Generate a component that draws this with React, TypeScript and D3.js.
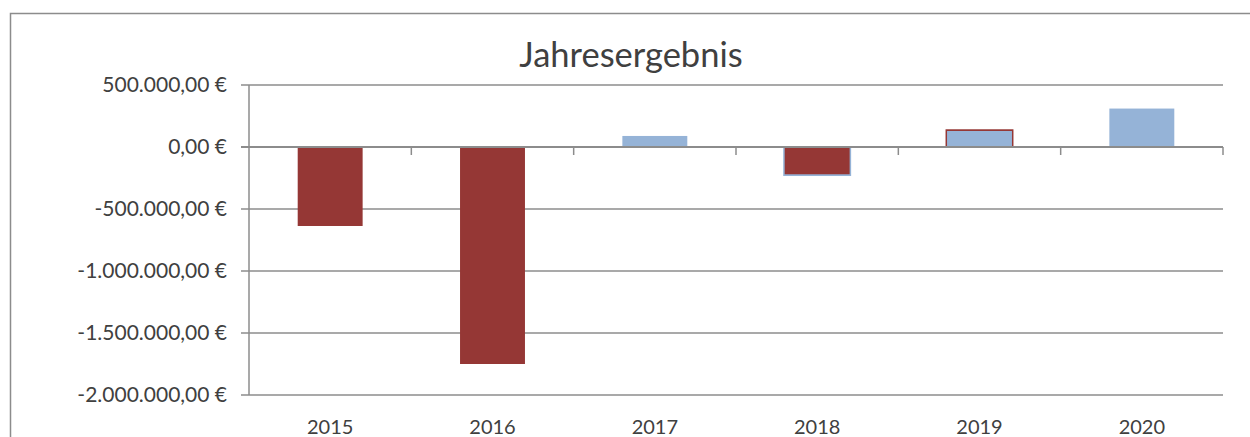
import React from "react";
import * as d3 from "d3";

const categories = ["2015", "2016", "2017", "2018", "2019", "2020"];
const blueValues = [0, 0, 89000, -234000, 129000, 310000];
const redValues = [-637000, -1750000, 0, -220000, 143000, 0];
const yTicks = [500000, 0, -500000, -1000000, -1500000, -2000000];
const title = "Jahresergebnis";

const W = 1250;
const H = 437;
const plot = { left: 249, right: 1223, top: 85, bottom: 395 };
const RED = "#953735";
const BLUE = "#95B3D7";
const GRID = "#8c8c8c";
const TEXT = "#404040";
const FONT = "Lato, 'Open Sans', sans-serif";

function fmtEuro(v: number): string {
  const s = Math.abs(v)
    .toFixed(2)
    .replace(".", ",")
    .replace(/\B(?=(\d{3})+(?!\d))/g, ".");
  return (v < 0 ? "-" : "") + s + " €";
}

export default function App() {
  const x = d3
    .scaleBand<string>()
    .domain(categories)
    .range([plot.left, plot.right])
    .paddingInner(0.6)
    .paddingOuter(0.3);
  const xOuter = d3.scaleBand<string>().domain(categories).range([plot.left, plot.right]);
  const y = d3.scaleLinear().domain([-2000000, 500000]).range([plot.bottom, plot.top]);
  const y0 = y(0);
  const bw = x.bandwidth();

  const bars: React.ReactNode[] = [];
  categories.forEach((c, i) => {
    const series = [
      { v: blueValues[i], fill: BLUE, key: "b" },
      { v: redValues[i], fill: RED, key: "r" },
    ].filter((s) => s.v !== 0);
    series.sort((a, b) => Math.abs(b.v) - Math.abs(a.v));
    series.forEach((s, k) => {
      const top = Math.min(y(s.v), y0);
      const h = Math.abs(y(s.v) - y0);
      const bx = x(c) as number;
      const back = series.length > 1 && k === 0;
      bars.push(
        <rect
          key={c + s.key}
          x={back ? bx - 1.5 : bx}
          y={top}
          width={back ? bw + 3 : bw}
          height={h}
          fill={s.fill}
        />
      );
    });
  });

  return (
    <svg width={W} height={H} style={{ position: "absolute", left: 0, top: 0 }}>
      <rect x={0} y={0} width={W} height={H} fill="#fff" />
      <rect x={10.5} y={13.5} width={W + 20} height={H + 20} fill="none" stroke={GRID} strokeWidth={1.5} />
      <text x={631} y={67} textAnchor="middle" fontFamily={FONT} fontSize={34.5} fill={TEXT}>
        {title}
      </text>
      {yTicks.map((t) => (
        <g key={t}>
          <line x1={plot.left - 8} x2={plot.right} y1={y(t)} y2={y(t)} stroke={GRID} strokeWidth={t === 0 ? 2 : 1.5} />
          <text
            x={plot.left - 22}
            y={y(t)}
            dy="0.35em"
            textAnchor="end"
            fontFamily={FONT}
            fontSize={21}
            fill={TEXT}
          >
            {fmtEuro(t)}
          </text>
        </g>
      ))}
      <line x1={plot.left} x2={plot.left} y1={plot.top} y2={plot.bottom} stroke={GRID} strokeWidth={1.5} />
      {categories.map((c) => (
        <line
          key={"tk" + c}
          x1={(xOuter(c) as number) + xOuter.bandwidth()}
          x2={(xOuter(c) as number) + xOuter.bandwidth()}
          y1={y0}
          y2={y0 + 8}
          stroke={GRID}
          strokeWidth={1.5}
        />
      ))}
      {bars}
      <line x1={plot.left} x2={plot.right} y1={y0} y2={y0} stroke={GRID} strokeWidth={2} />
      {categories.map((c) => (
        <text
          key={"lb" + c}
          x={(xOuter(c) as number) + xOuter.bandwidth() / 2}
          y={427}
          dy="0.35em"
          textAnchor="middle"
          fontFamily={FONT}
          fontSize={20}
          fill={TEXT}
        >
          {c}
        </text>
      ))}
    </svg>
  );
}
